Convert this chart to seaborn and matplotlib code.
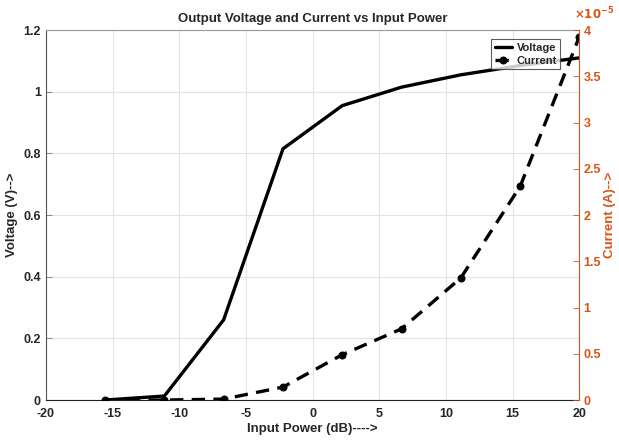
import matplotlib
matplotlib.use("Agg")
import matplotlib.pyplot as plt
import seaborn as sns
import pandas as pd

input_power = [-15.56, -11.11, -6.67, -2.22, 2.22, 6.67, 11.11, 15.56, 20.0]
voltage = [0.0, 0.013, 0.26, 0.815, 0.955, 1.015, 1.055, 1.085, 1.11]
current = [0.0, 0.0, 0.01e-5, 0.14e-5, 0.49e-5, 0.77e-5, 1.32e-5, 2.31e-5, 3.93e-5]
x_ticks = [-20, -15, -10, -5, 0, 5, 10, 15, 20]
v_ticks = [0, 0.2, 0.4, 0.6, 0.8, 1.0, 1.2]
v_tick_labels = ["0", "0.2", "0.4", "0.6", "0.8", "1", "1.2"]
i_ticks = [0, 0.5e-5, 1e-5, 1.5e-5, 2e-5, 2.5e-5, 3e-5, 3.5e-5, 4e-5]
i_tick_labels = ["0", "0.5", "1", "1.5", "2", "2.5", "3", "3.5", "4"]

df = pd.DataFrame({"p": input_power, "v": voltage, "i": current})

sns.set_style("white")
plt.rcParams["font.family"] = ["Liberation Sans", "DejaVu Sans"]
plt.rcParams["font.weight"] = "bold"

orange = "#D95319"
fig = plt.figure(figsize=(6.19, 4.43), dpi=100)
ax = fig.add_axes([0.074, 0.097, 0.862, 0.835])
ax2 = ax.twinx()

sns.lineplot(data=df, x="p", y="v", ax=ax, color="black", linewidth=2.4,
             label="Voltage", legend=False)
sns.lineplot(data=df, x="p", y="i", ax=ax2, color="black", linewidth=2.4,
             linestyle=(0, (4, 2.5)), marker="o", markersize=5,
             markeredgecolor="black", label="Current", legend=False)

ax.set_xlim(-20, 20)
ax.set_ylim(0, 1.2)
ax2.set_ylim(0, 4e-5)
ax.set_xticks(x_ticks)
ax.set_xticklabels([str(t) for t in x_ticks])
ax.set_yticks(v_ticks)
ax.set_yticklabels(v_tick_labels)
ax2.set_yticks(i_ticks)
ax2.set_yticklabels(i_tick_labels)
ax.grid(True, color="#e3e3e3", linewidth=0.8)

ax.tick_params(axis="both", direction="in", labelsize=9, length=4, color="#777777",
               width=0.6)
ax.tick_params(axis="x", pad=6)
ax2.tick_params(axis="y", direction="in", labelsize=9, colors=orange, length=4,
                width=0.6, pad=3)
for lab in ax.get_xticklabels() + ax.get_yticklabels():
    lab.set_fontweight("bold")
for lab in ax2.get_yticklabels():
    lab.set_fontweight("bold")

ax.set_xlabel("Input Power (dB)---->", fontsize=9.5, fontweight="bold", labelpad=2)
ax.set_ylabel("Voltage (V)-->", fontsize=9.5, fontweight="bold", labelpad=4)
ax2.set_ylabel("Current (A)-->", fontsize=9.5, fontweight="bold", color=orange,
               labelpad=2)
ax.set_title("Output Voltage and Current vs Input Power", fontsize=9.5,
             fontweight="bold", pad=6)

ax.spines["top"].set_color("#999999")
ax2.spines["top"].set_visible(False)
ax.spines["left"].set_color("#555555")
ax.spines["bottom"].set_color("#222222")
ax2.spines["right"].set_color(orange)
ax.spines["right"].set_visible(False)
ax2.spines["left"].set_visible(False)
ax2.spines["bottom"].set_visible(False)
for sp in ax.spines.values():
    sp.set_linewidth(0.8)
ax2.spines["right"].set_linewidth(0.8)

fig.text(0.928, 0.950, r"$\times10^{-5}$", color=orange, fontsize=8.5, ha="left",
         va="bottom")

h1, l1 = ax.get_legend_handles_labels()
h2, l2 = ax2.get_legend_handles_labels()
leg = ax2.legend(h1 + h2, l1 + l2, loc="upper right", bbox_to_anchor=(0.975, 0.99),
                 frameon=True, fancybox=False, borderpad=0.3,
                 handlelength=1.6, handletextpad=0.4, labelspacing=0.3,
                 prop={"weight": "bold", "size": 8})
leg.get_frame().set_edgecolor("#333333")
leg.get_frame().set_linewidth(0.8)

fig.savefig("out.png", dpi=100)
